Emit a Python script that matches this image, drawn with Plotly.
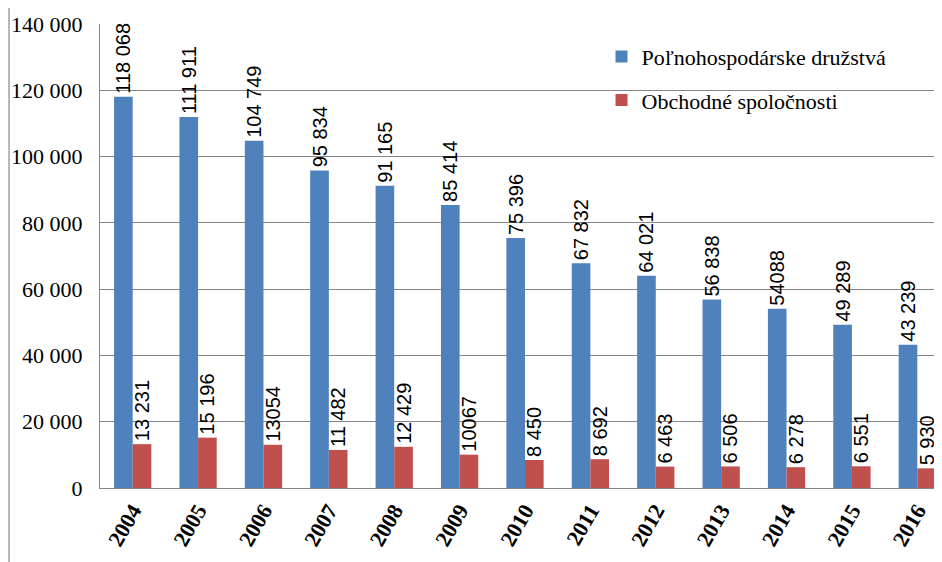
import plotly.graph_objects as go

years = ["2004", "2005", "2006", "2007", "2008", "2009", "2010",
         "2011", "2012", "2013", "2014", "2015", "2016"]
druzstva = [118068, 111911, 104749, 95834, 91165, 85414, 75396,
            67832, 64021, 56838, 54088, 49289, 43239]
spolocnosti = [13231, 15196, 13054, 11482, 12429, 10067, 8450,
               8692, 6463, 6506, 6278, 6551, 5930]
druzstva_labels = ["118 068", "111 911", "104 749", "95 834", "91 165", "85 414", "75 396",
                   "67 832", "64 021", "56 838", "54088", "49 289", "43 239"]
spolocnosti_labels = ["13 231", "15 196", "13054", "11 482", "12 429", "10067", "8 450",
                      "8 692", "6 463", "6 506", "6 278", "6 551", "5 930"]
y_ticks = [0, 20000, 40000, 60000, 80000, 100000, 120000, 140000]
y_tick_text = ["0", "20 000", "40 000", "60 000", "80 000", "100 000", "120 000", "140 000"]

label_font = dict(family="Liberation Sans, Arial", size=20, color="black")
pad = "\u00a0\u00a0"

fig = go.Figure()
fig.add_trace(go.Bar(
    x=years, y=druzstva, name="Poľnohospodárske družstvá",
    marker=dict(color="#4F81BD", line=dict(width=0)),
    text=[t + pad for t in druzstva_labels], textposition="outside", textangle=-90,
    textfont=label_font, constraintext="none", cliponaxis=False,
    legendgroup="a",
))
fig.add_trace(go.Bar(
    x=years, y=spolocnosti, name="Obchodné spoločnosti",
    marker=dict(color="#C0504D", line=dict(width=0)),
    text=[t + pad for t in spolocnosti_labels], textposition="outside", textangle=-90,
    textfont=label_font, constraintext="none", cliponaxis=False,
    legendgroup="b",
))

fig.update_layout(
    width=942, height=562,
    margin=dict(l=92, r=0, t=16, b=82),
    paper_bgcolor="white", plot_bgcolor="white",
    barmode="group", bargap=0.43, bargroupgap=0,
    showlegend=True,
    legend=dict(
        x=0.59, y=0.975, xanchor="left", yanchor="top",
        bgcolor="rgba(0,0,0,0)",
        font=dict(family="Liberation Serif, Times New Roman", size=22, color="black"),
        traceorder="grouped", tracegroupgap=12,
        itemwidth=30,
    ),
    xaxis=dict(
        tickangle=-60,
        tickfont=dict(family="Liberation Serif, Times New Roman", size=22, color="black", weight="bold"),
        showline=True, linecolor="#868686", linewidth=1,
        ticks="", showgrid=False,
    ),
    yaxis=dict(
        range=[0, 140000],
        tickvals=y_ticks, ticktext=y_tick_text,
        tickfont=dict(family="Liberation Serif, Times New Roman", size=22, color="black"),
        showgrid=True, gridcolor="#868686", gridwidth=1,
        showline=True, linecolor="#868686", linewidth=1,
        zeroline=False, ticks="", ticklabelstandoff=12,
    ),
    shapes=[dict(type="line", xref="paper", yref="paper",
                 x0=-0.107, x1=-0.107, y0=-0.2, y1=1.1,
                 line=dict(color="#a0a0a0", width=1.5))],
)

fig.write_html("out.html")
